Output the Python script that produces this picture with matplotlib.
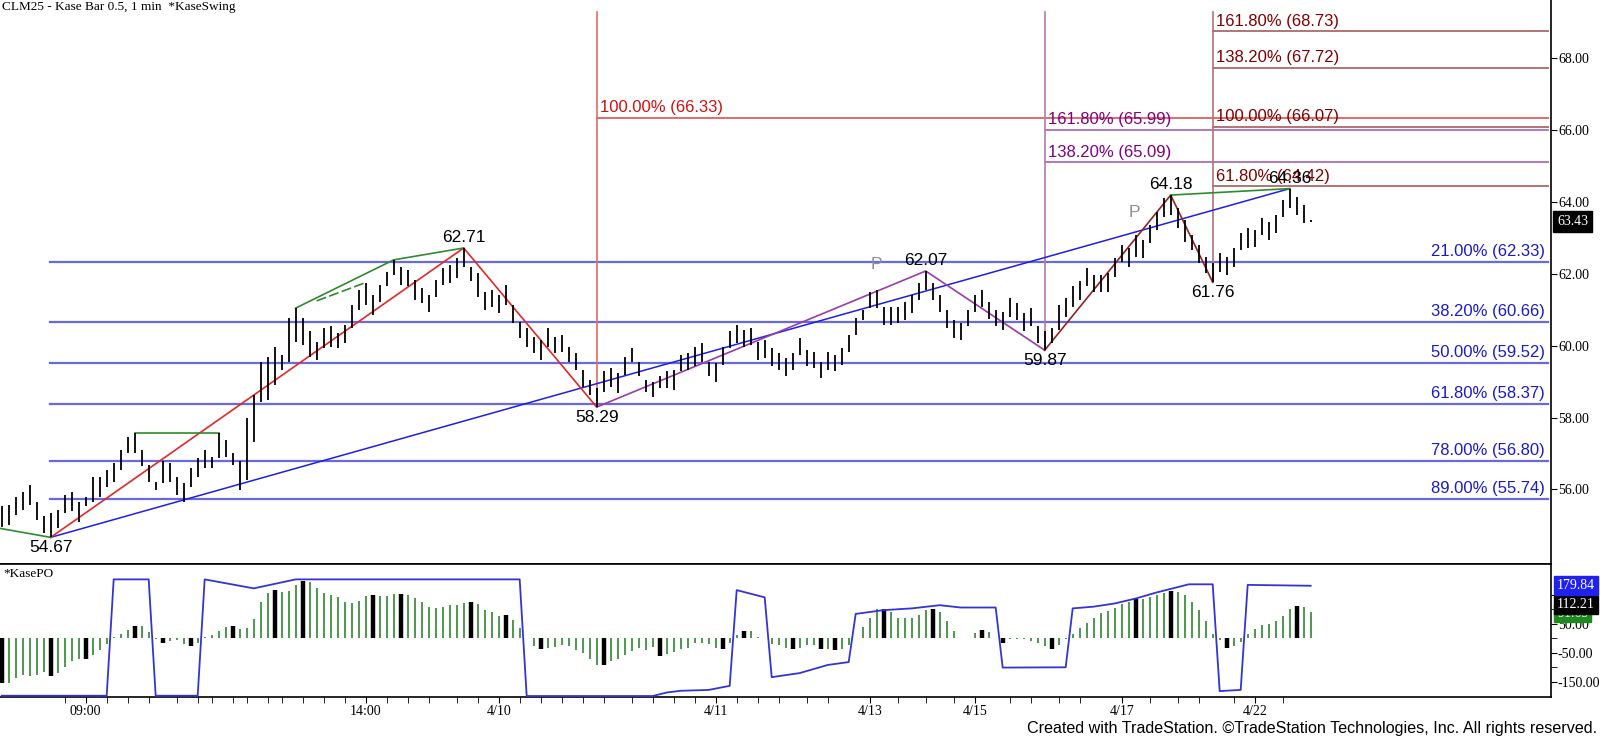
import matplotlib
matplotlib.use("Agg")
import matplotlib.pyplot as plt
import numpy as np

# ---- price bars (high / low), one per bar ----
bar_high = [55.53, 55.57, 55.80, 55.94, 56.13, 55.66, 55.25, 55.34, 55.43, 55.85,
            55.94, 55.66, 55.80, 56.36, 56.36, 56.55, 56.73, 57.10, 57.47, 57.58,
            57.10, 56.68, 56.22, 56.78, 56.73, 56.36, 56.17, 56.59, 56.87, 57.10,
            56.91, 57.58, 57.38, 57.01, 56.78, 57.98, 58.63, 59.55, 59.69, 59.97,
            59.74, 60.76, 61.04, 60.76, 60.39, 60.11, 60.48, 60.53, 60.34, 60.57,
            61.13, 61.55, 61.73, 61.41, 61.68, 62.05, 62.38, 62.19, 62.10, 61.82,
            61.59, 61.41, 61.82, 62.15, 62.24, 62.42, 62.71, 62.19, 62.01, 61.50,
            61.55, 61.41, 61.68, 61.13, 60.66, 60.48, 60.25, 60.15, 60.48, 60.25,
            60.29, 59.97, 59.79, 59.32, 59.04, 58.81, 59.28, 59.37, 59.23, 59.69,
            59.92, 59.55, 59.04, 58.99, 59.14, 59.28, 59.32, 59.74, 59.78, 59.97,
            60.06, 59.55, 59.51, 59.97, 60.39, 60.57, 60.43, 60.48, 60.11, 60.16,
            59.92, 59.79, 59.65, 59.79, 60.20, 59.88, 59.83, 59.55, 59.83, 59.74,
            59.92, 60.29, 60.76, 60.99, 61.50, 61.55, 61.08, 61.08, 61.08, 61.22,
            61.41, 61.73, 62.07, 61.73, 61.41, 60.99, 60.71, 60.62, 60.99, 61.41,
            61.55, 61.20, 60.99, 60.94, 61.31, 61.17, 60.90, 61.04, 60.53, 60.39,
            60.48, 61.13, 61.31, 61.64, 61.78, 62.15, 61.96, 61.96, 62.01, 62.42,
            62.79, 62.70, 63.07, 62.93, 63.35, 63.72, 64.09, 64.18, 63.81, 63.49,
            63.07, 62.79, 62.47, 62.29, 62.56, 62.47, 62.70, 63.12, 63.26, 63.21,
            63.54, 63.44, 63.63, 64.04, 64.36, 64.14, 63.90, 63.49]
bar_low = [54.97, 55.02, 55.30, 55.43, 55.57, 55.16, 54.79, 54.67, 54.92, 55.34,
           55.39, 55.11, 55.53, 55.66, 55.80, 56.08, 56.22, 56.55, 57.01, 57.01,
           56.64, 56.22, 55.99, 56.17, 56.22, 55.85, 55.66, 56.08, 56.36, 56.59,
           56.59, 56.87, 56.91, 56.68, 55.99, 56.27, 57.33, 58.44, 58.49, 58.91,
           59.32, 59.55, 60.11, 60.02, 59.69, 59.60, 59.92, 59.97, 59.92, 60.06,
           60.48, 60.99, 61.13, 60.85, 61.22, 61.64, 61.96, 61.68, 61.64, 61.27,
           61.17, 60.94, 61.36, 61.68, 61.73, 61.87, 62.19, 61.78, 61.36, 60.99,
           61.08, 60.90, 61.13, 60.62, 60.20, 59.97, 59.79, 59.60, 59.97, 59.79,
           59.83, 59.55, 59.32, 58.86, 58.63, 58.29, 58.72, 58.86, 58.67, 59.18,
           59.55, 59.14, 58.72, 58.58, 58.81, 58.81, 58.77, 59.28, 59.32, 59.42,
           59.55, 59.14, 59.00, 59.46, 59.92, 60.06, 59.97, 60.02, 59.60, 59.65,
           59.42, 59.32, 59.14, 59.32, 59.74, 59.42, 59.37, 59.09, 59.32, 59.28,
           59.46, 59.83, 60.29, 60.71, 61.04, 61.04, 60.57, 60.57, 60.62, 60.71,
           60.90, 61.27, 61.54, 61.27, 60.94, 60.48, 60.20, 60.16, 60.53, 60.94,
           61.08, 60.75, 60.53, 60.43, 60.80, 60.71, 60.39, 60.53, 60.06, 59.87,
           60.06, 60.43, 60.80, 61.08, 61.27, 61.64, 61.50, 61.50, 61.50, 61.91,
           62.33, 62.19, 62.47, 62.42, 62.84, 63.21, 63.58, 63.63, 63.26, 62.89,
           62.66, 62.29, 62.01, 61.76, 62.05, 61.96, 62.19, 62.66, 62.70, 62.75,
           63.07, 62.93, 63.12, 63.58, 63.81, 63.63, 63.40, 63.43]

# ---- swing points ----
swing_idx = [7, 66, 85, 132, 149, 167, 173, 184]
swing_val = [54.67, 62.71, 58.29, 62.07, 59.87, 64.18, 61.76, 64.36]
swing_lbl = ["54.67", "62.71", "58.29", "62.07", "59.87", "64.18", "61.76", "64.36"]

# ---- fib levels ----
blue_fib_pct = ["21.00%", "38.20%", "50.00%", "61.80%", "78.00%", "89.00%"]
blue_fib_val = [62.33, 60.66, 59.52, 58.37, 56.80, 55.74]
red_fib_pct = ["100.00%"]
red_fib_val = [66.33]
purple_fib_pct = ["161.80%", "138.20%"]
purple_fib_val = [65.99, 65.09]
brown_fib_pct = ["161.80%", "138.20%", "100.00%", "61.80%"]
brown_fib_val = [68.73, 67.72, 66.07, 64.42]

# ---- KasePO ----
kpo_hist = [-155, -154, -138, -126, -130, -126, -115, -130, -118, -100,
            -80, -71, -72, -57, -40, -20, 3, 15, 29, 43,
            43, 23, -1, -15, -9, -5, -20, -25, -15, 3,
            11, 26, 38, 43, 31, 37, 66, 126, 155, 167,
            161, 164, 184, 199, 194, 172, 157, 149, 143, 126,
            123, 130, 146, 149, 146, 146, 153, 153, 149, 138,
            125, 108, 104, 108, 115, 115, 120, 125, 118, 98,
            92, 77, 80, 63, 35, 2, -28, -36, -32, -30,
            -24, -28, -39, -52, -71, -91, -93, -79, -70, -58,
            -44, -32, -41, -30, -62, -55, -47, -36, -32, -18,
            -16, -21, -32, -38, -16, 10, 25, 25, 5, 2,
            -21, -24, -32, -38, -32, -24, -24, -38, -36, -41,
            -36, -24, 2, 40, 69, 100, 100, 92, 69, 69,
            69, 80, 98, 100, 92, 60, 25, 2, 1, 18,
            30, 22, 1, -16, -4, -2, -4, -9, -16, -28,
            -38, -24, -2, 16, 34, 53, 69, 86, 95, 106,
            118, 126, 134, 134, 141, 149, 155, 164, 161, 149,
            126, 98, 61, 14, -6, -32, -28, -13, 15, 32,
            46, 49, 60, 77, 101, 112, 107, 92]
kpo_black = [0, 7, 12, 19, 23, 27, 33, 39, 43, 53, 57, 67, 72, 77, 86, 94,
             103, 106, 113, 117, 119, 126, 133, 140, 143, 150, 162, 167, 175, 185]
kpo_line_idx = [0, 15, 16, 21, 22, 28, 29, 36, 42, 74, 75, 93, 95, 97, 101, 104,
                105, 109, 110, 114, 118, 121, 122, 126, 130, 134, 137, 142, 143,
                152, 153, 156, 159, 162, 165, 169.6, 173, 174, 177, 178, 187]
kpo_line_val = [-198, -198, 203, 203, -198, -198, 203, 172, 203, 203, -199, -199,
                -187, -181, -178, -164, 166, 141, -134, -120, -92, -82, 84, 97,
                103, 114, 106, 106, -101, -100, 103, 109, 120, 137, 158, 186, 186,
                -182, -178, 184, 181]

# x axis labels
xtick_pos = [12, 52, 71, 102, 124, 139, 160, 179]
xtick_lbl = ["09:00", "14:00", "4/10", "4/11", "4/13", "4/15", "4/17", "4/22"]
xminor_pos = [9, 15, 18, 21, 25, 28, 30, 33, 35, 38, 40, 43, 46, 49, 55, 58, 61,
              65, 68, 74, 77, 80, 83, 86, 90, 93, 96, 99, 105, 108, 111, 115, 118,
              128, 132, 136, 144, 147, 151, 154, 164, 168, 171, 176, 183]

SANS = "Liberation Sans"
SERIF = "Liberation Serif"

fig = plt.figure(figsize=(16, 7.39), dpi=100)
W, H = 1600, 739
ax = fig.add_axes([0, 175 / H, 1551 / W, 564 / H])
ax2 = fig.add_axes([0, 42 / H, 1551 / W, 133 / H], sharex=ax)

XMAX = 221.33
ax.set_xlim(-0.24, XMAX)
ax.set_ylim(53.93, 69.6)

idx = np.arange(len(bar_high))

# blue retracement lines
for pct, v in zip(blue_fib_pct, blue_fib_val):
    ax.plot([6.9, 220.9], [v, v], color="#6A6AE0", lw=1.6, zorder=1)
    ax.annotate(f"{pct} ({v:.2f})", (220.5, v), xytext=(0, 2), textcoords="offset points",
                ha="right", va="bottom", color="#1A1ACD", fontsize=12, family=SANS)

# vertical projection lines and their fib levels
def fib_block(i0, low, vals, pcts, lcol, tcol):
    ax.plot([i0, i0], [low, 69.27], color=lcol, lw=1.2, zorder=1)
    for pct, v in zip(pcts, vals):
        ax.plot([i0, 220.9], [v, v], color=lcol, lw=1.4, zorder=1)
        ax.annotate(f"{pct} ({v:.2f})", (i0, v), xytext=(2.5, 2), textcoords="offset points",
                    ha="left", va="bottom", color=tcol, fontsize=12, family=SANS)

fib_block(85, 58.29, red_fib_val, red_fib_pct, "#E46A6A", "#D01010")
fib_block(149, 59.87, purple_fib_val, purple_fib_pct, "#B478B4", "#800080")
fib_block(173, 61.76, brown_fib_val, brown_fib_pct, "#B07474", "#800000")

# price bars
ax.vlines(idx, bar_low, bar_high, color="black", lw=1.3, zorder=3)

# swing lines
si, sv = swing_idx, swing_val
ax.plot([si[0], si[7]], [sv[0], sv[7]], color="#1E1EE6", lw=1.1, zorder=2)
ax.plot(si[0:3], sv[0:3], color="#E02828", lw=1.2, zorder=2)
ax.plot(si[2:5], sv[2:5], color="#9A3CA8", lw=1.2, zorder=2)
ax.plot(si[4:7], sv[4:7], color="#8E2424", lw=1.2, zorder=2)
ax.plot([si[5], si[7]], [sv[5], sv[7]], color="#2E8B2E", lw=1.2, zorder=2)
ax.plot([-0.24, 7], [54.92, 54.67], color="#2E8B2E", lw=1.2, zorder=2)
ax.plot([19, 31], [57.58, 57.58], color="#2E8B2E", lw=1.2, zorder=2)
ax.plot([42, 56, 66], [61.04, 62.38, 62.71], color="#2E8B2E", lw=1.2, zorder=2)
ax.plot([45, 52], [61.24, 61.75], color="#2E8B2E", lw=1.2, ls=(0, (6, 2)), zorder=2)

# swing labels (lows below, highs above)
for k, (i, v, t) in enumerate(zip(swing_idx, swing_val, swing_lbl)):
    is_low = k in (0, 2, 4, 6)
    ax.annotate(t, (i, v), xytext=(0, -2 if is_low else 2), textcoords="offset points",
                ha="center", va="top" if is_low else "bottom", fontsize=12.5,
                family=SANS, color="black", zorder=5)

ax.text(124.9, 62.26, "P", color="#909090", fontsize=12.5, family=SANS, ha="center", va="center")
ax.text(161.8, 63.69, "P", color="#909090", fontsize=12.5, family=SANS, ha="center", va="center")

# main axis styling
for s in ["top", "left"]:
    ax.spines[s].set_visible(False)
ax.spines["bottom"].set_linewidth(1.2)
ax.spines["right"].set_linewidth(1.2)
ax.yaxis.tick_right()
ax.set_yticks([56, 58, 60, 62, 64, 66, 68])
ax.set_yticklabels([f"{v:.2f}" for v in [56, 58, 60, 62, 64, 66, 68]], family=SERIF)
ax.tick_params(axis="y", direction="out", length=4, labelsize=10, pad=1)
ax.tick_params(axis="x", bottom=False, labelbottom=False)

# last price tag
ax.text(1.004, 63.45, "63.43", transform=ax.get_yaxis_transform(), ha="left", va="center",
        fontsize=10, family=SERIF, color="white", zorder=6, clip_on=False,
        bbox=dict(boxstyle="square,pad=0.3", fc="black", ec="black"))

# ---- KasePO panel ----
ax2.set_ylim(-202.4, 256)
cols = ["black" if i in kpo_black else "#1E7A1E" for i in idx]
lws = [3.2 if i in kpo_black else 1.1 for i in idx]
ax2.vlines(idx, 0, kpo_hist, colors=cols, linewidths=lws, zorder=2)
ax2.plot(kpo_line_idx, kpo_line_val, color="#3434D4", lw=1.3, zorder=3)

ax2.spines["left"].set_visible(False)
for s in ["top", "bottom", "right"]:
    ax2.spines[s].set_linewidth(1.2)
ax2.yaxis.tick_right()
ax2.set_yticks([150, 50, -50, -150])
ax2.set_yticklabels(["150.00", "50.00", "-50.00", "-150.00"], family=SERIF)
ax2.set_yticks([100, 0, -100], minor=True)
ax2.tick_params(axis="y", which="both", direction="out", length=4, labelsize=10, pad=1)
ax2.set_xticks(xtick_pos)
ax2.set_xticklabels(xtick_lbl, family=SERIF)
ax2.set_xticks(xminor_pos, minor=True)
ax2.tick_params(axis="x", which="both", direction="out", length=4, labelsize=10, pad=2)

for val, txt, bg in [(87, "91.65", "#1E8A1E"), (115, "112.21", "black"), (182, "179.84", "#2020F0")]:
    ax2.text(1.004, val, txt, transform=ax2.get_yaxis_transform(), ha="left", va="center",
             fontsize=10, family=SERIF, color="white", zorder=6, clip_on=False,
             bbox=dict(boxstyle="square,pad=0.2", fc=bg, ec=bg))

ax2.text(0.002, 0.97, "*KasePO", transform=ax2.transAxes, ha="left", va="top",
         fontsize=9.5, family=SERIF)

fig.text(2 / W, 1 - 1 / H, "CLM25 - Kase Bar 0.5, 1 min  *KaseSwing", ha="left", va="top",
         fontsize=9.5, family=SERIF)
fig.text(1597 / W, 1 - 729 / H,
         "Created with TradeStation. \u00a9TradeStation Technologies, Inc. All rights reserved.",
         ha="right", va="center", fontsize=11.6, family=SANS)

fig.savefig("out.png", dpi=100)
